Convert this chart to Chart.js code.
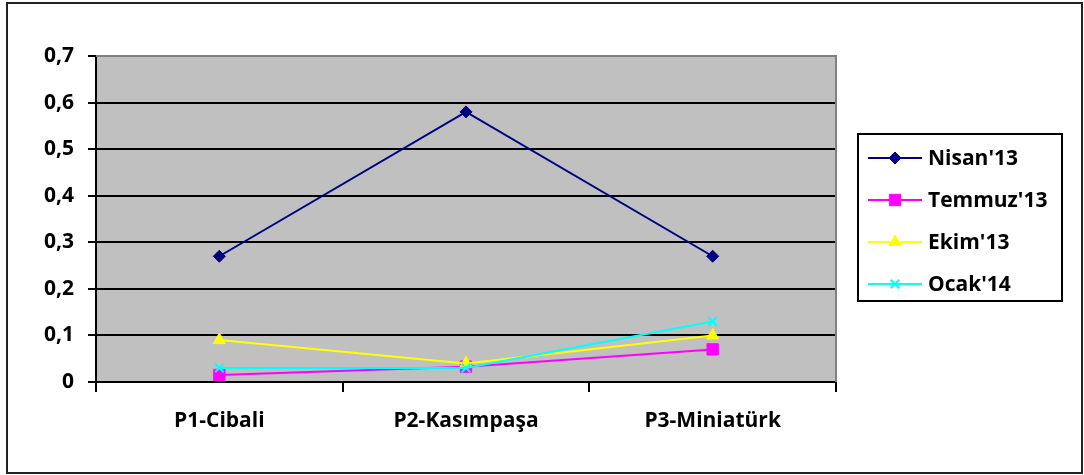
<!DOCTYPE html>
<html>
<head>
<meta charset="utf-8">
<script src="https://cdn.jsdelivr.net/npm/chart.js@4.4.1/dist/chart.umd.min.js"></script>
<style>
  html, body { margin: 0; padding: 0; background: #fff; }
  #wrap { width: 1084px; height: 475px; position: relative; }
</style>
</head>
<body>
<div id="wrap"><canvas id="c" width="1084" height="475"></canvas></div>
<script>
const categories = ['P1-Cibali', 'P2-Kasımpaşa', 'P3-Miniatürk'];
const seriesNames = ["Nisan'13", "Temmuz'13", "Ekim'13", "Ocak'14"];
const nisan13 = [0.27, 0.58, 0.27];
const temmuz13 = [0.015, 0.033, 0.07];
const ekim13 = [0.09, 0.04, 0.1];
const ocak14 = [0.03, 0.03, 0.13];
const yTicks = [0, 0.1, 0.2, 0.3, 0.4, 0.5, 0.6, 0.7];

const FONT = "'Open Sans', 'Liberation Sans', sans-serif";

const colors = ['#000080', '#FF00FF', '#FFFF00', '#00FFFF'];
const markers = ['rectRot', 'rect', 'triangle', 'crossRot'];
const markerSizes = [6, 8, 7, 6];
const values = [nisan13, temmuz13, ekim13, ocak14];

// later series are painted over earlier ones
const datasets = seriesNames.map((name, i) => ({
  label: name,
  data: values[i],
  order: seriesNames.length - 1 - i,
  borderColor: colors[i],
  backgroundColor: colors[i],
  borderWidth: 2,
  pointStyle: markers[i],
  pointRadius: markerSizes[i],
  pointBorderWidth: i === 3 ? 2 : 1,
  pointBorderColor: colors[i],
  pointBackgroundColor: colors[i],
  tension: 0
}));

// Gray plot background, gray top/right edges and the outer frame
const framePlugin = {
  id: 'framePlugin',
  beforeDraw(chart) {
    const { ctx, chartArea: a } = chart;
    ctx.save();
    ctx.fillStyle = '#C0C0C0';
    ctx.fillRect(a.left, a.top, a.right - a.left, a.bottom - a.top);
    ctx.restore();
  },
  afterDraw(chart) {
    const { ctx, chartArea: a } = chart;
    ctx.save();
    ctx.strokeStyle = '#808080';
    ctx.lineWidth = 2;
    ctx.beginPath();
    ctx.moveTo(a.left, a.top);
    ctx.lineTo(a.right, a.top);
    ctx.lineTo(a.right, a.bottom);
    ctx.stroke();
    ctx.strokeStyle = '#222';
    ctx.lineWidth = 2;
    ctx.strokeRect(7, 3, 1075, 470);
    ctx.restore();
  }
};

// Legend: line + marker sample for each series inside a bordered box
const boxLegend = {
  id: 'boxLegend',
  afterDraw(chart) {
    const ctx = chart.ctx;
    const x0 = 858, y0 = 134, w = 204, h = 167;
    ctx.save();
    ctx.fillStyle = '#fff';
    ctx.fillRect(x0, y0, w, h);
    ctx.strokeStyle = '#000';
    ctx.lineWidth = 2;
    ctx.strokeRect(x0, y0, w, h);
    chart.data.datasets.forEach((ds, i) => {
      const y = 158 + i * 42;
      ctx.strokeStyle = ds.borderColor;
      ctx.fillStyle = ds.backgroundColor;
      ctx.lineWidth = 2;
      ctx.beginPath();
      ctx.moveTo(868, y);
      ctx.lineTo(922, y);
      ctx.stroke();
      ctx.lineWidth = ds.pointBorderWidth;
      Chart.helpers.drawPoint(ctx, {
        pointStyle: ds.pointStyle,
        radius: ds.pointRadius,
        borderWidth: ds.pointBorderWidth,
        rotation: 0
      }, 895, y);
      ctx.fillStyle = '#000';
      ctx.font = "bold 21px " + FONT;
      ctx.textBaseline = 'middle';
      ctx.textAlign = 'left';
      ctx.fillText(ds.label, 928, y + 1);
    });
    ctx.restore();
  }
};

new Chart(document.getElementById('c'), {
  type: 'line',
  data: { labels: categories, datasets },
  options: {
    responsive: false,
    animation: false,
    layout: { padding: { left: 0, right: 248, top: 56, bottom: 0 } },
    plugins: {
      legend: { display: false },
      tooltip: { enabled: false }
    },
    scales: {
      x: {
        offset: true,
        grid: {
          offset: true,
          drawOnChartArea: false,
          drawTicks: true,
          tickLength: 10,
          color: '#000',
          lineWidth: 2
        },
        border: { color: '#000', width: 2 },
        ticks: {
          color: '#000',
          font: { family: FONT, size: 21, weight: 'bold' },
          padding: 16
        },
        afterFit(scale) { scale.height = 93; }
      },
      y: {
        min: 0,
        max: 0.7,
        afterBuildTicks(scale) { scale.ticks = yTicks.map(v => ({ value: v })); },
        grid: {
          color: '#000',
          lineWidth: 2,
          tickLength: 8,
          drawTicks: true
        },
        border: { color: '#000', width: 2 },
        ticks: {
          color: '#000',
          font: { family: FONT, size: 21, weight: 'bold' },
          padding: 14,
          callback: v => String(Math.round(v * 10) / 10).replace('.', ',')
        },
        afterFit(scale) { scale.width = 96; }
      }
    }
  },
  plugins: [framePlugin, boxLegend]
});
</script>
</body>
</html>
